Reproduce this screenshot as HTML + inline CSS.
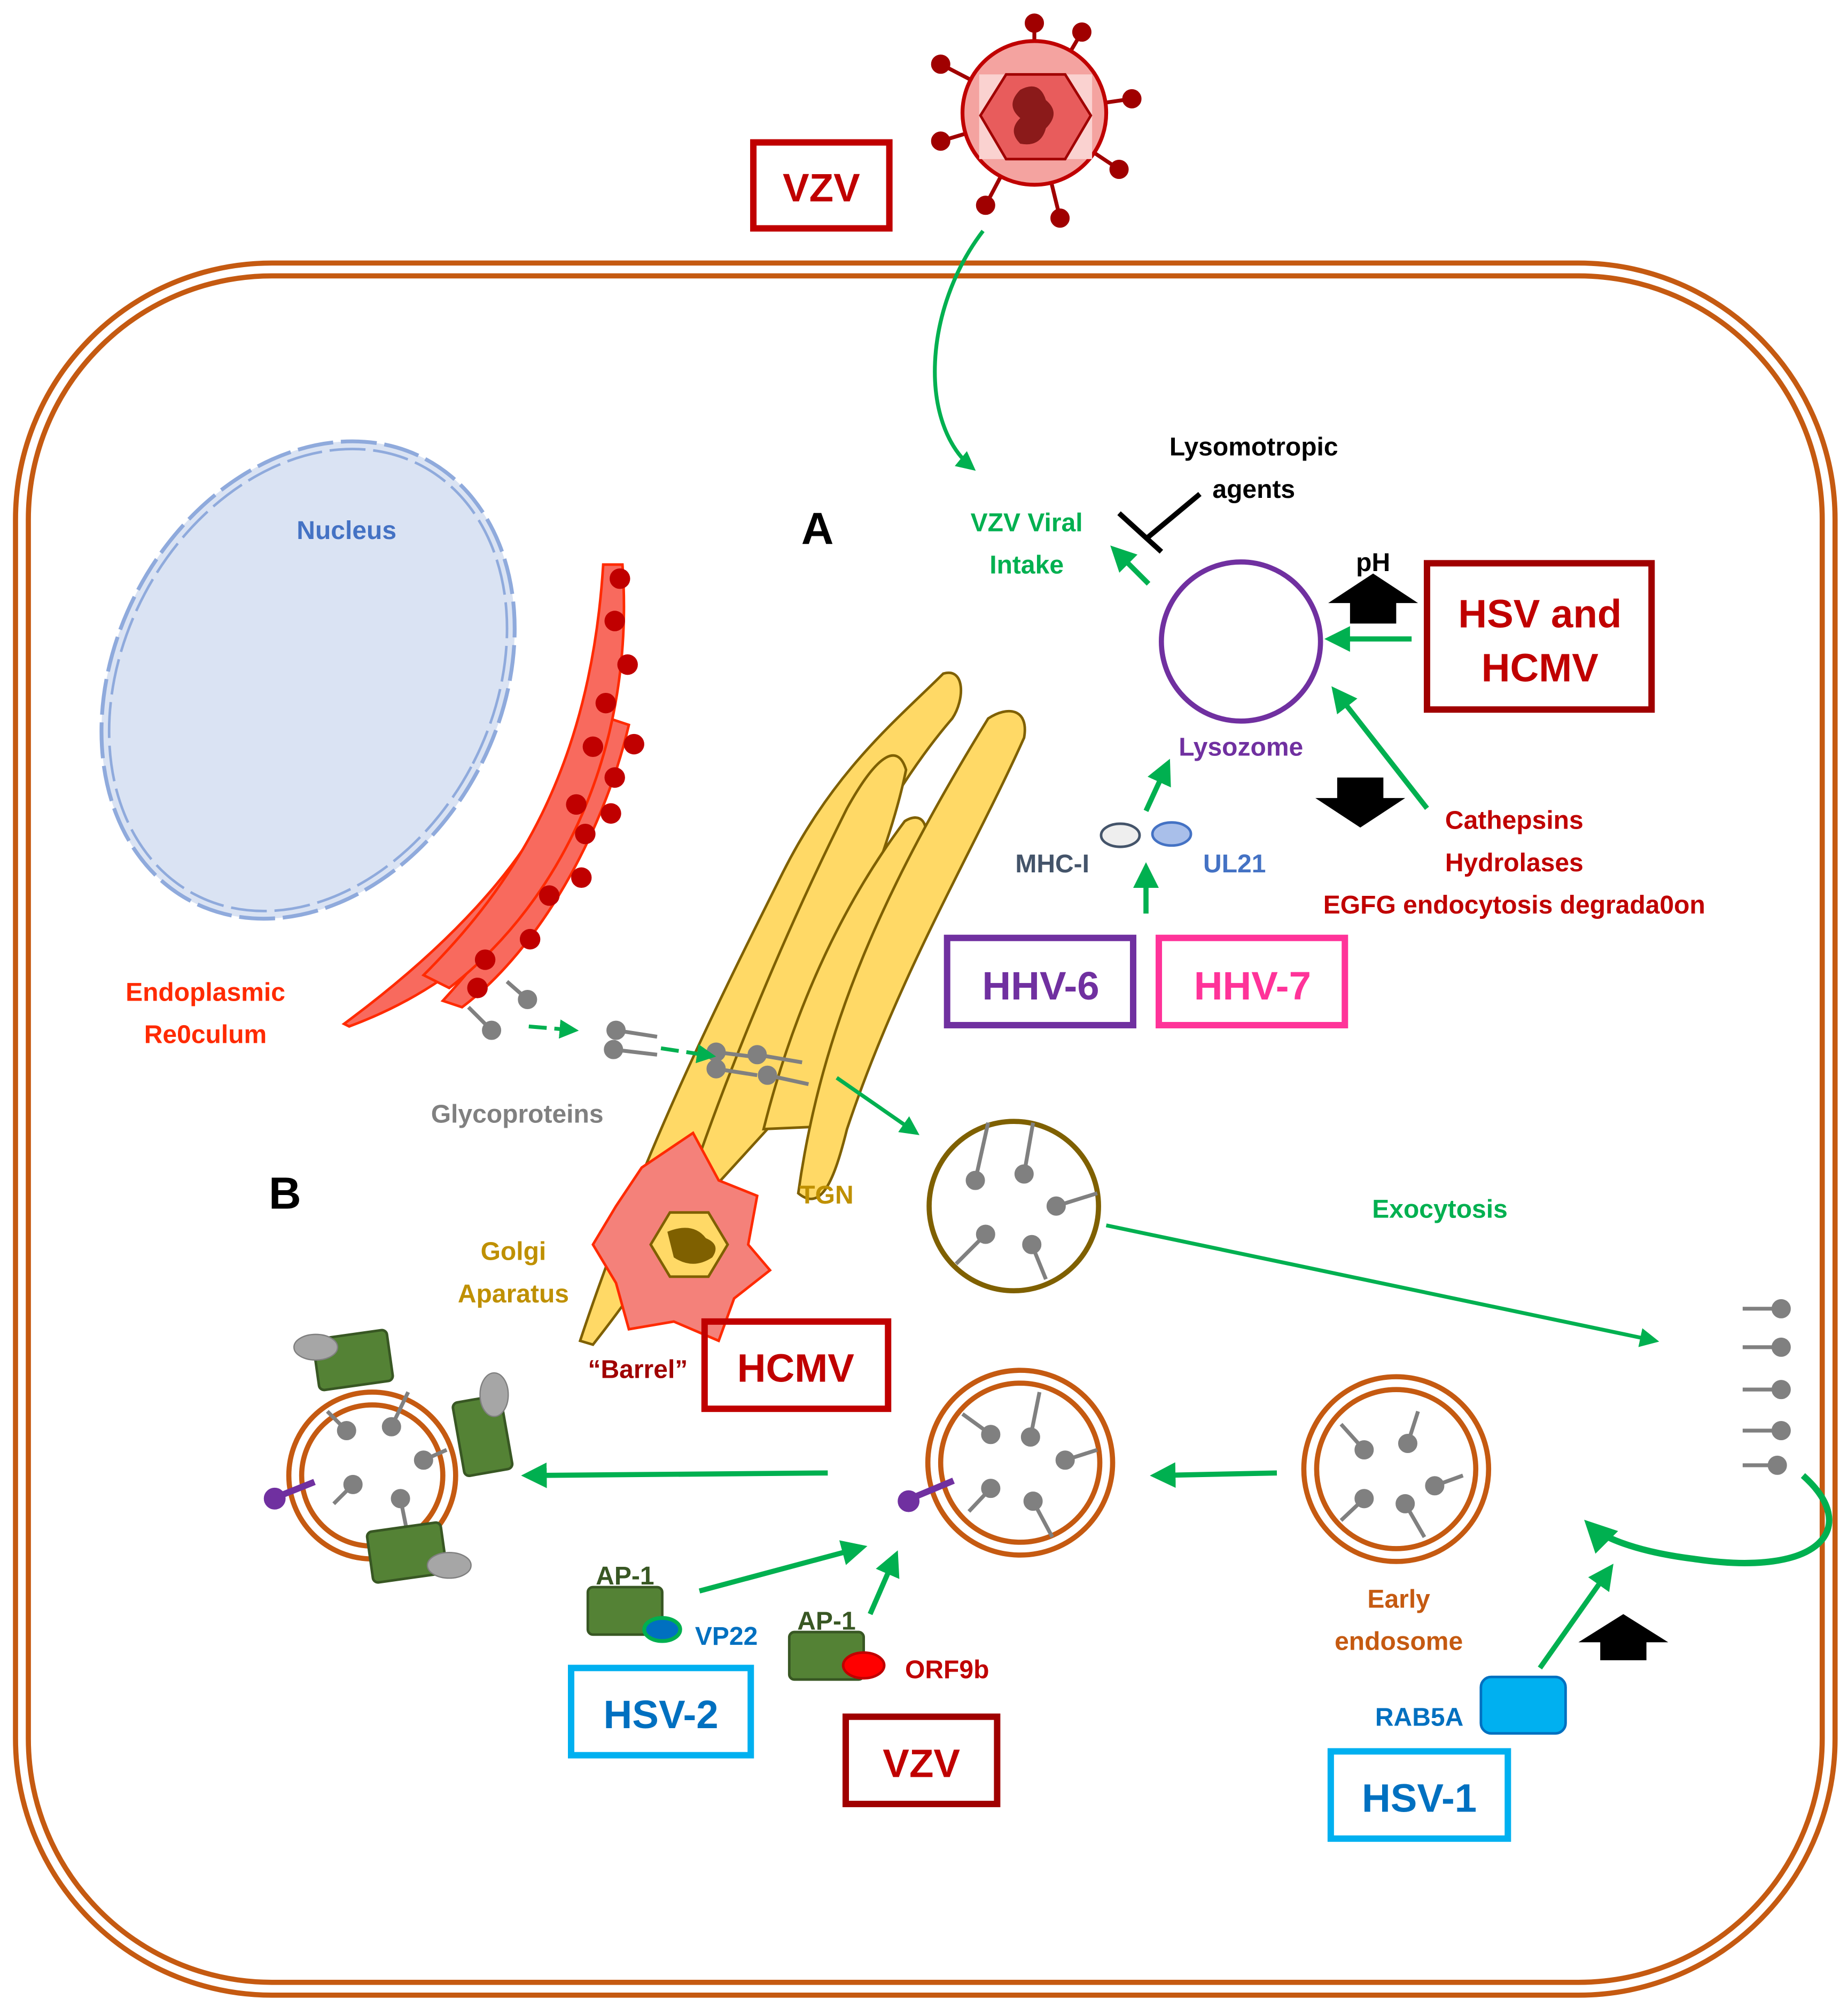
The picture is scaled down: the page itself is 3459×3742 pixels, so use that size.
<!DOCTYPE html>
<html><head><meta charset="utf-8"><style>
html,body{margin:0;padding:0;background:#fff}
svg{display:block}
text{font-family:"Liberation Sans",Arial,sans-serif;font-weight:bold}
</style></head><body>
<svg width="3459" height="3742" viewBox="0 0 1440 1558" xmlns="http://www.w3.org/2000/svg">
<defs>
<marker id="ga" viewBox="0 0 10 10" refX="8" refY="5" markerWidth="5" markerHeight="5" orient="auto"><path d="M0,0 L10,5 L0,10 z" fill="#00B050"/></marker>
</defs>
<!-- cell -->
<rect x="12" y="205" width="1418" height="1350" rx="200" fill="none" stroke="#C55A11" stroke-width="4"/>
<rect x="22" y="215" width="1398" height="1330" rx="190" fill="none" stroke="#C55A11" stroke-width="4"/>

<!-- virus -->
<g stroke="#A00000" stroke-width="3" fill="#A00000">
<line x1="806" y1="88" x2="806" y2="18"/><circle cx="806" cy="18" r="6"/>
<line x1="806" y1="88" x2="733" y2="50"/><circle cx="733" cy="50" r="6"/>
<line x1="806" y1="88" x2="843" y2="25"/><circle cx="843" cy="25" r="6"/>
<line x1="806" y1="88" x2="882" y2="77"/><circle cx="882" cy="77" r="6"/>
<line x1="806" y1="88" x2="872" y2="132"/><circle cx="872" cy="132" r="6"/>
<line x1="806" y1="88" x2="826" y2="170"/><circle cx="826" cy="170" r="6"/>
<line x1="806" y1="88" x2="768" y2="160"/><circle cx="768" cy="160" r="6"/>
<line x1="806" y1="88" x2="733" y2="110"/><circle cx="733" cy="110" r="6"/>
</g>
<circle cx="806" cy="88" r="56" fill="#F4A3A0" stroke="#C00000" stroke-width="3"/>
<rect x="763" y="58" width="88" height="66" fill="#FAD2D0"/>
<polygon points="784,58 830,58 850,90 830,124 784,124 764,90" fill="#E85C5C" stroke="#A00000" stroke-width="2"/>
<path d="M795,70 q15,-8 20,8 q12,10 0,22 q-4,15 -20,12 q-10,-10 0,-20 q-12,-10 0,-22z" fill="#8B1A1A"/>
<rect x="587" y="111" width="106" height="67" fill="none" stroke="#C00000" stroke-width="5"/>
<text x="640" y="157" font-size="31" fill="#C00000" text-anchor="middle">VZV</text>
<path d="M766,180 C720,240 715,330 758,365" fill="none" stroke="#00B050" stroke-width="3" marker-end="url(#ga)"/>

<!-- nucleus -->
<ellipse cx="240" cy="530" rx="150" ry="195" transform="rotate(28 240 530)" fill="#DAE3F3" stroke="#8FAADC" stroke-width="3" stroke-dasharray="28 6"/>
<ellipse cx="240" cy="530" rx="144" ry="189" transform="rotate(28 240 530)" fill="none" stroke="#8FAADC" stroke-width="2" stroke-dasharray="28 6"/>
<text x="270" y="420" font-size="20" fill="#4472C4" text-anchor="middle">Nucleus</text>

<!-- ER -->
<path d="M268,798 C360,730 420,660 438,602 L442,608 C440,680 380,760 272,800z" fill="#F86A5E" stroke="#FF2A00" stroke-width="2"/>
<path d="M345,780 C400,720 450,640 475,560 L490,565 C470,650 420,740 360,785z" fill="#F86A5E" stroke="#FF2A00" stroke-width="2"/>
<path d="M330,760 C400,690 460,600 470,440 L485,440 C495,580 440,700 350,770z" fill="#F86A5E" stroke="#FF2A00" stroke-width="2"/>
<g fill="#C00000">
<circle cx="483" cy="451" r="8"/><circle cx="479" cy="484" r="8"/><circle cx="489" cy="518" r="8"/>
<circle cx="472" cy="548" r="8"/><circle cx="494" cy="580" r="8"/><circle cx="462" cy="582" r="8"/>
<circle cx="479" cy="606" r="8"/><circle cx="449" cy="627" r="8"/><circle cx="476" cy="634" r="8"/>
<circle cx="456" cy="650" r="8"/><circle cx="453" cy="684" r="8"/><circle cx="428" cy="698" r="8"/>
<circle cx="413" cy="732" r="8"/><circle cx="378" cy="748" r="8"/><circle cx="372" cy="770" r="8"/>
</g>
<text x="160" y="780" font-size="20" fill="#FF2A00" text-anchor="middle">Endoplasmic</text>
<text x="160" y="813" font-size="20" fill="#FF2A00" text-anchor="middle">Re0culum</text>

<!-- Golgi -->
<g fill="#FFD966" stroke="#7F6000" stroke-width="2">
<path d="M452,1045 C500,900 560,780 610,680 C650,600 700,560 735,525 C752,520 752,545 742,560 C690,620 640,720 612,800 C570,900 500,1000 462,1048z"/>
<path d="M525,960 C560,850 610,730 660,630 C685,585 700,580 706,600 C690,680 640,780 598,880z"/>
<path d="M595,880 C620,780 660,700 705,640 C718,632 725,642 720,660 C690,730 660,800 640,878z"/>
<path d="M622,930 C640,800 690,690 770,560 C785,550 802,552 798,575 C760,660 700,760 660,880 C650,920 640,945 622,930z"/>
</g>
<text x="400" y="982" font-size="20" fill="#BF9000" text-anchor="middle">Golgi</text>
<text x="400" y="1015" font-size="20" fill="#BF9000" text-anchor="middle">Aparatus</text>
<text x="644" y="938" font-size="20" fill="#BF9000" text-anchor="middle">TGN</text>

<!-- Barrel -->
<path d="M540,883 L560,920 L590,932 L583,970 L600,990 L572,1012 L560,1045 L525,1030 L490,1036 L480,1000 L462,970 L480,940 L500,910z" fill="#F4817A" stroke="#FF2A00" stroke-width="2"/>
<polygon points="522,945 552,945 567,970 552,995 522,995 507,970" fill="#FFD966" stroke="#7F6000" stroke-width="2"/>
<path d="M520,960 q20,-8 30,5 q12,5 5,15 q-15,10 -30,0z" fill="#7F6000"/>
<text x="497" y="1074" font-size="20" fill="#A00000" text-anchor="middle">“Barrel”</text>
<rect x="549" y="1030" width="143" height="68" fill="none" stroke="#C00000" stroke-width="5"/>
<text x="620" y="1077" font-size="31" fill="#C00000" text-anchor="middle">HCMV</text>

<!-- glycoproteins -->
<g stroke="#808080" stroke-width="3" fill="#808080">
<line x1="365" y1="785" x2="383" y2="803"/><circle cx="383" cy="803" r="6"/>
<line x1="395" y1="765" x2="411" y2="779"/><circle cx="411" cy="779" r="6"/>
<line x1="480" y1="803" x2="512" y2="808"/><circle cx="480" cy="803" r="6"/>
<line x1="478" y1="818" x2="512" y2="822"/><circle cx="478" cy="818" r="6"/>
<line x1="558" y1="820" x2="590" y2="824"/><circle cx="558" cy="820" r="6"/>
<line x1="558" y1="833" x2="590" y2="838"/><circle cx="558" cy="833" r="6"/>
<line x1="590" y1="822" x2="625" y2="828"/><circle cx="590" cy="822" r="6"/>
<line x1="598" y1="838" x2="630" y2="845"/><circle cx="598" cy="838" r="6"/>
</g>
<line x1="412" y1="800" x2="448" y2="803" stroke="#00B050" stroke-width="3" stroke-dasharray="14 6" marker-end="url(#ga)"/>
<line x1="515" y1="817" x2="555" y2="823" stroke="#00B050" stroke-width="3" stroke-dasharray="14 6" marker-end="url(#ga)"/>
<text x="403" y="875" font-size="20" fill="#808080" text-anchor="middle">Glycoproteins</text>
<line x1="652" y1="840" x2="714" y2="883" stroke="#00B050" stroke-width="3" marker-end="url(#ga)"/>

<!-- secretory vesicle -->
<circle cx="790" cy="940" r="66" fill="#fff" stroke="#7F6000" stroke-width="4"/>
<g stroke="#808080" stroke-width="3" fill="#808080">
<line x1="770" y1="875" x2="760" y2="920"/><circle cx="760" cy="920" r="6"/>
<line x1="805" y1="875" x2="798" y2="915"/><circle cx="798" cy="915" r="6"/>
<line x1="855" y1="930" x2="823" y2="940"/><circle cx="823" cy="940" r="6"/>
<line x1="745" y1="985" x2="768" y2="962"/><circle cx="768" cy="962" r="6"/>
<line x1="815" y1="997" x2="804" y2="970"/><circle cx="804" cy="970" r="6"/>
</g>
<text x="1122" y="949" font-size="20" fill="#00B050" text-anchor="middle">Exocytosis</text>
<line x1="862" y1="955" x2="1290" y2="1045" stroke="#00B050" stroke-width="3" marker-end="url(#ga)"/>

<!-- membrane glycoproteins -->
<g stroke="#808080" stroke-width="3" fill="#808080">
<line x1="1358" y1="1020" x2="1388" y2="1020"/><circle cx="1388" cy="1020" r="6"/>
<line x1="1358" y1="1050" x2="1388" y2="1050"/><circle cx="1388" cy="1050" r="6"/>
<line x1="1358" y1="1083" x2="1388" y2="1083"/><circle cx="1388" cy="1083" r="6"/>
<line x1="1358" y1="1115" x2="1388" y2="1115"/><circle cx="1388" cy="1115" r="6"/>
<line x1="1358" y1="1142" x2="1385" y2="1142"/><circle cx="1385" cy="1142" r="6"/>
</g>
<path d="M1405,1150 C1450,1190 1420,1230 1320,1215 C1280,1210 1250,1200 1238,1188" fill="none" stroke="#00B050" stroke-width="5" marker-end="url(#ga)"/>

<!-- lysosome area -->
<text x="637" y="424" font-size="35" fill="#000" text-anchor="middle">A</text>
<text x="800" y="414" font-size="20" fill="#00B050" text-anchor="middle">VZV Viral</text>
<text x="800" y="447" font-size="20" fill="#00B050" text-anchor="middle">Intake</text>
<text x="977" y="355" font-size="20" fill="#000" text-anchor="middle">Lysomotropic</text>
<text x="977" y="388" font-size="20" fill="#000" text-anchor="middle">agents</text>
<line x1="935" y1="385" x2="893" y2="420" stroke="#000" stroke-width="4"/>
<line x1="872" y1="400" x2="905" y2="430" stroke="#000" stroke-width="4"/>
<line x1="895" y1="455" x2="868" y2="428" stroke="#00B050" stroke-width="4" marker-end="url(#ga)"/>
<circle cx="967" cy="500" r="62" fill="#fff" stroke="#7030A0" stroke-width="4"/>
<text x="967" y="589" font-size="20" fill="#7030A0" text-anchor="middle">Lysozome</text>
<text x="1070" y="445" font-size="20" fill="#000" text-anchor="middle">pH</text>
<polygon points="1070,447 1105,470 1088,470 1088,486 1052,486 1052,470 1035,470" fill="#000"/>
<polygon points="1060,645 1095,622 1078,622 1078,606 1042,606 1042,622 1025,622" fill="#000"/>
<line x1="1100" y1="498" x2="1036" y2="498" stroke="#00B050" stroke-width="4" marker-end="url(#ga)"/>
<rect x="1112" y="439" width="175" height="114" fill="none" stroke="#A00000" stroke-width="5"/>
<text x="1200" y="489" font-size="31" fill="#C00000" text-anchor="middle">HSV and</text>
<text x="1200" y="531" font-size="31" fill="#C00000" text-anchor="middle">HCMV</text>
<line x1="1112" y1="630" x2="1040" y2="538" stroke="#00B050" stroke-width="4" marker-end="url(#ga)"/>
<text x="1180" y="646" font-size="20" fill="#C00000" text-anchor="middle">Cathepsins</text>
<text x="1180" y="679" font-size="20" fill="#C00000" text-anchor="middle">Hydrolases</text>
<text x="1180" y="712" font-size="20" fill="#C00000" text-anchor="middle">EGFG endocytosis degrada0on</text>
<ellipse cx="873" cy="651" rx="15" ry="9" fill="#eee" stroke="#44546A" stroke-width="2"/>
<ellipse cx="913" cy="650" rx="15" ry="9" fill="#A9BFEA" stroke="#4472C4" stroke-width="2"/>
<text x="820" y="680" font-size="20" fill="#44546A" text-anchor="middle">MHC-I</text>
<text x="962" y="680" font-size="20" fill="#4472C4" text-anchor="middle">UL21</text>
<line x1="893" y1="632" x2="910" y2="595" stroke="#00B050" stroke-width="4" marker-end="url(#ga)"/>
<line x1="893" y1="712" x2="893" y2="676" stroke="#00B050" stroke-width="4" marker-end="url(#ga)"/>
<rect x="738" y="731" width="145" height="68" fill="none" stroke="#7030A0" stroke-width="5"/>
<text x="811" y="779" font-size="31" fill="#7030A0" text-anchor="middle">HHV-6</text>
<rect x="903" y="731" width="145" height="68" fill="none" stroke="#FF3399" stroke-width="5"/>
<text x="976" y="779" font-size="31" fill="#FF3399" text-anchor="middle">HHV-7</text>

<!-- B -->
<text x="222" y="942" font-size="35" fill="#000" text-anchor="middle">B</text>

<!-- endosomes -->
<g fill="#fff" stroke="#C55A11" stroke-width="4">
<circle cx="290" cy="1150" r="65"/><circle cx="290" cy="1150" r="55"/>
<circle cx="795" cy="1140" r="72"/><circle cx="795" cy="1140" r="62"/>
<circle cx="1088" cy="1145" r="72"/><circle cx="1088" cy="1145" r="62"/>
</g>
<g stroke="#808080" stroke-width="3" fill="#808080">
<line x1="255" y1="1100" x2="270" y2="1115"/><circle cx="270" cy="1115" r="6"/>
<line x1="318" y1="1085" x2="305" y2="1112"/><circle cx="305" cy="1112" r="6"/>
<line x1="348" y1="1130" x2="330" y2="1138"/><circle cx="330" cy="1138" r="6"/>
<line x1="260" y1="1172" x2="275" y2="1157"/><circle cx="275" cy="1157" r="6"/>
<line x1="318" y1="1198" x2="312" y2="1168"/><circle cx="312" cy="1168" r="6"/>
<line x1="750" y1="1102" x2="772" y2="1118"/><circle cx="772" cy="1118" r="6"/>
<line x1="810" y1="1085" x2="803" y2="1120"/><circle cx="803" cy="1120" r="6"/>
<line x1="855" y1="1130" x2="830" y2="1138"/><circle cx="830" cy="1138" r="6"/>
<line x1="755" y1="1178" x2="772" y2="1160"/><circle cx="772" cy="1160" r="6"/>
<line x1="820" y1="1198" x2="805" y2="1170"/><circle cx="805" cy="1170" r="6"/>
<line x1="1045" y1="1110" x2="1063" y2="1130"/><circle cx="1063" cy="1130" r="6"/>
<line x1="1105" y1="1100" x2="1097" y2="1125"/><circle cx="1097" cy="1125" r="6"/>
<line x1="1140" y1="1150" x2="1118" y2="1158"/><circle cx="1118" cy="1158" r="6"/>
<line x1="1045" y1="1185" x2="1063" y2="1168"/><circle cx="1063" cy="1168" r="6"/>
<line x1="1110" y1="1198" x2="1095" y2="1172"/><circle cx="1095" cy="1172" r="6"/>
</g>
<g stroke="#7030A0" stroke-width="5" fill="#7030A0">
<line x1="220" y1="1165" x2="245" y2="1155"/><circle cx="214" cy="1168" r="6"/>
<line x1="712" y1="1167" x2="743" y2="1154"/><circle cx="708" cy="1170" r="6"/>
</g>
<g fill="#548235" stroke="#385723" stroke-width="2">
<rect x="246" y="1040" width="58" height="40" rx="4" transform="rotate(-8 275 1060)"/>
<rect x="357" y="1090" width="38" height="58" rx="4" transform="rotate(-10 376 1119)"/>
<rect x="288" y="1190" width="58" height="40" rx="4" transform="rotate(-8 317 1210)"/>
</g>
<g fill="#A6A6A6" stroke="#7F7F7F">
<ellipse cx="246" cy="1050" rx="17" ry="10"/>
<ellipse cx="385" cy="1087" rx="11" ry="17"/>
<ellipse cx="350" cy="1220" rx="17" ry="10"/>
</g>
<line x1="645" y1="1148" x2="410" y2="1150" stroke="#00B050" stroke-width="4" marker-end="url(#ga)"/>
<line x1="995" y1="1148" x2="900" y2="1150" stroke="#00B050" stroke-width="4" marker-end="url(#ga)"/>
<text x="1090" y="1253" font-size="20" fill="#C55A11" text-anchor="middle">Early</text>
<text x="1090" y="1286" font-size="20" fill="#C55A11" text-anchor="middle">endosome</text>

<rect x="458" y="1237" width="58" height="37" rx="4" fill="#548235" stroke="#385723" stroke-width="2"/>
<text x="487" y="1235" font-size="20" fill="#385723" text-anchor="middle">AP-1</text>
<ellipse cx="516" cy="1270" rx="14" ry="9" fill="#0070C0" stroke="#00B050" stroke-width="3"/>
<text x="566" y="1282" font-size="20" fill="#0070C0" text-anchor="middle">VP22</text>
<line x1="545" y1="1240" x2="672" y2="1206" stroke="#00B050" stroke-width="4" marker-end="url(#ga)"/>
<rect x="445" y="1300" width="140" height="68" fill="none" stroke="#00B0F0" stroke-width="5"/>
<text x="515" y="1347" font-size="31" fill="#0070C0" text-anchor="middle">HSV-2</text>
<rect x="615" y="1272" width="58" height="37" rx="4" fill="#548235" stroke="#385723" stroke-width="2"/>
<text x="644" y="1270" font-size="20" fill="#385723" text-anchor="middle">AP-1</text>
<ellipse cx="673" cy="1298" rx="16" ry="10" fill="#FF0000" stroke="#C00000" stroke-width="2"/>
<text x="738" y="1308" font-size="20" fill="#C00000" text-anchor="middle">ORF9b</text>
<line x1="678" y1="1258" x2="698" y2="1212" stroke="#00B050" stroke-width="4" marker-end="url(#ga)"/>
<rect x="659" y="1338" width="118" height="68" fill="none" stroke="#A00000" stroke-width="5"/>
<text x="718" y="1385" font-size="31" fill="#C00000" text-anchor="middle">VZV</text>

<rect x="1154" y="1307" width="66" height="44" rx="8" fill="#00B0F0" stroke="#0070C0" stroke-width="2"/>
<text x="1106" y="1345" font-size="20" fill="#0070C0" text-anchor="middle">RAB5A</text>
<line x1="1200" y1="1300" x2="1255" y2="1222" stroke="#00B050" stroke-width="4" marker-end="url(#ga)"/>
<polygon points="1265,1258 1300,1280 1283,1280 1283,1294 1247,1294 1247,1280 1230,1280" fill="#000"/>
<rect x="1037" y="1365" width="138" height="68" fill="none" stroke="#00B0F0" stroke-width="5"/>
<text x="1106" y="1412" font-size="31" fill="#0070C0" text-anchor="middle">HSV-1</text>
</svg>
</body></html>
